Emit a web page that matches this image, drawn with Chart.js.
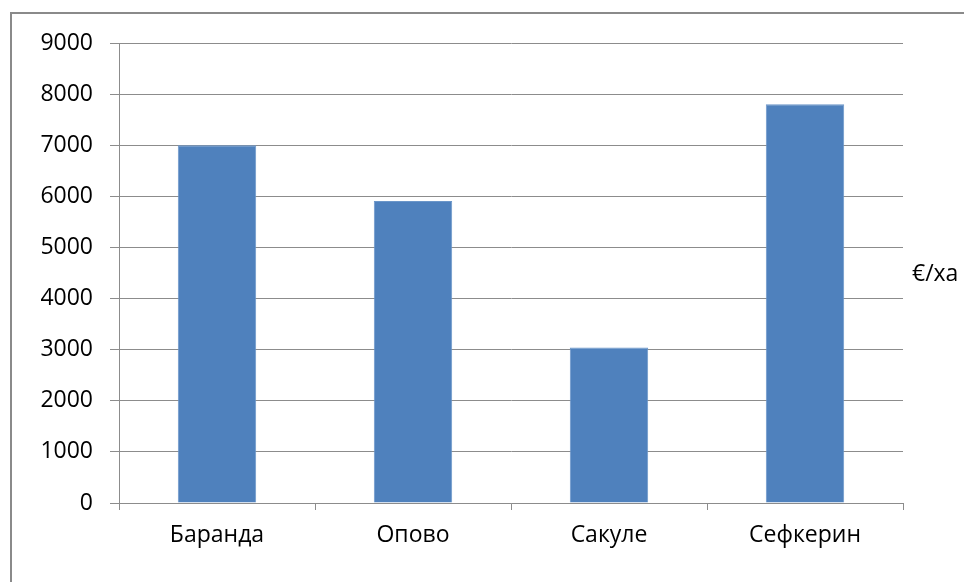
<!DOCTYPE html>
<html>
<head>
<meta charset="utf-8">
<script src="https://cdn.jsdelivr.net/npm/chart.js@4/dist/chart.umd.min.js"></script>
<style>
  html, body { margin: 0; padding: 0; background: #fff; overflow: hidden; }
  #wrap { position: relative; width: 964px; height: 582px; }
  #frame { position: absolute; left: 10px; top: 12px; width: 1000px; height: 700px;
           border: 2px solid #8a8a8a; box-sizing: border-box; }
  canvas { position: absolute; left: 0; top: 0; }
</style>
</head>
<body>
<div id="wrap">
  <div id="frame"></div>
  <canvas id="c" width="964" height="582"></canvas>
</div>
<script>
const categories = ["Баранда", "Опово", "Сакуле", "Сефкерин"];
const values = [7000, 5910, 3040, 7800];
const seriesLabel = "€/ха";
const yTicks = [0, 1000, 2000, 3000, 4000, 5000, 6000, 7000, 8000, 9000];

const font = "'Open Sans', 'Noto Sans', sans-serif";
const gridColor = "#8c8c8c";

// legend drawn as plain text to the right of the plot (no colour key)
const sideLabel = {
  id: "sideLabel",
  afterDraw(chart) {
    const ctx = chart.ctx;
    const a = chart.chartArea;
    ctx.save();
    ctx.font = "23px " + font;
    ctx.fillStyle = "#000";
    ctx.textBaseline = "middle";
    ctx.fillText(chart.data.datasets[0].label, a.right + 9, (a.top + a.bottom) / 2 + 1);
    ctx.restore();
  }
};

new Chart(document.getElementById("c").getContext("2d"), {
  type: "bar",
  data: {
    labels: categories,
    datasets: [{
      label: seriesLabel,
      data: values,
      backgroundColor: "#4f81bd",
      borderColor: "#6b96c9",
      borderWidth: 1,
      categoryPercentage: 1,
      barPercentage: 0.4
    }]
  },
  options: {
    responsive: false,
    animation: false,
    layout: { padding: { left: 0, right: 61, top: 43, bottom: 0 } },
    plugins: { legend: { display: false }, tooltip: { enabled: false } },
    scales: {
      x: {
        grid: { offset: true, drawOnChartArea: false, drawTicks: true, tickLength: 7, color: gridColor },
        border: { color: gridColor, width: 1 },
        ticks: { color: "#000", font: { family: font, size: 23 }, padding: 12, maxRotation: 0 },
        afterFit(s) { s.height = 79; }
      },
      y: {
        min: 0, max: 9000,
        afterBuildTicks(s) { s.ticks = yTicks.map(v => ({ value: v })); },
        grid: { color: gridColor, drawTicks: true, tickLength: 9 },
        border: { color: gridColor, width: 1 },
        ticks: { color: "#000", font: { family: font, size: 23 }, padding: 17,
                 callback: v => String(v) },
        afterFit(s) { s.width = 119; }
      }
    }
  },
  plugins: [sideLabel]
});
</script>
</body>
</html>
